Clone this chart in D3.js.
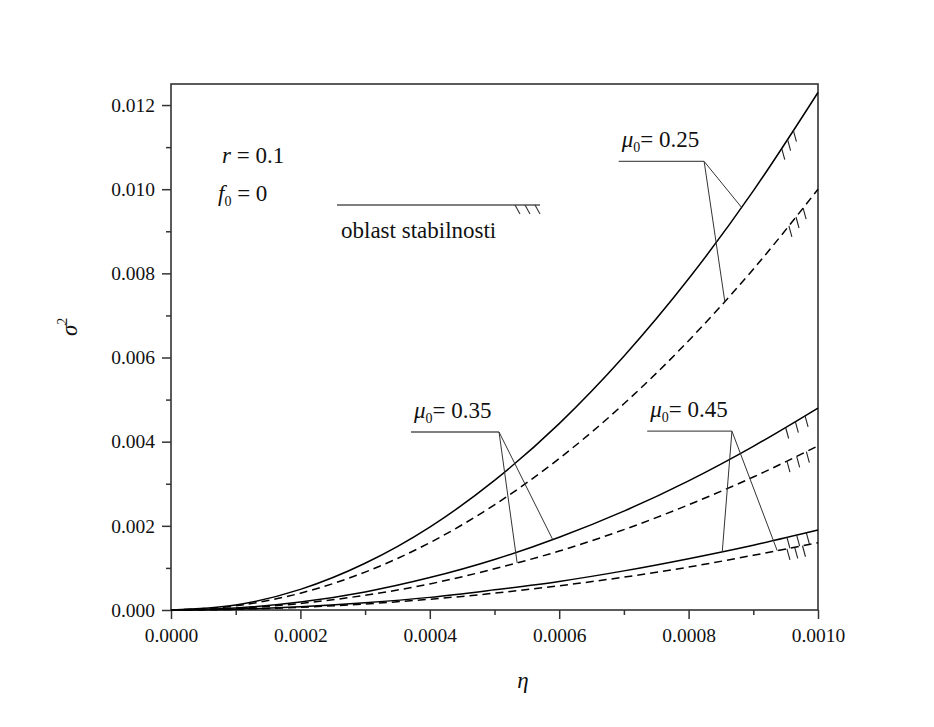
<!DOCTYPE html>
<html>
<head>
<meta charset="utf-8">
<script src="https://cdn.jsdelivr.net/npm/d3@7"></script>
<style>
body { margin: 0; background: #fff; }
text { font-family: "Liberation Serif", "Times New Roman", serif; fill: #111; }
</style>
</head>
<body>
<svg id="chart" width="934" height="727"></svg>
<script>
// values
const eta = [0, 0.0001, 0.0002, 0.0003, 0.0004, 0.0005, 0.0006, 0.0007, 0.0008, 0.0009, 0.0010];
const mu025Solid  = [0, 0.00012, 0.00049, 0.00111, 0.00197, 0.00308, 0.00443, 0.00603, 0.00787, 0.00996, 0.01230];
const mu025Dashed = [0, 0.00010, 0.00040, 0.00090, 0.00160, 0.00250, 0.00360, 0.00490, 0.00640, 0.00810, 0.01000];
const mu035Solid  = [0, 0.000048, 0.00019, 0.00043, 0.00077, 0.00120, 0.00173, 0.00235, 0.00307, 0.00389, 0.00480];
const mu035Dashed = [0, 0.000039, 0.000156, 0.00035, 0.00062, 0.00098, 0.00140, 0.00191, 0.00250, 0.00316, 0.00390];
const mu045Solid  = [0, 0.000019, 0.000076, 0.00017, 0.00030, 0.00048, 0.00068, 0.00093, 0.00122, 0.00154, 0.00190];
const mu045Dashed = [0, 0.000016, 0.000064, 0.000144, 0.000256, 0.00040, 0.000576, 0.00078, 0.00102, 0.00130, 0.00160];

const xTicks = [0, 0.0002, 0.0004, 0.0006, 0.0008, 0.0010];
const xMinor = [0.0001, 0.0003, 0.0005, 0.0007, 0.0009];
const yTicks = [0, 0.002, 0.004, 0.006, 0.008, 0.010, 0.012];
const yMinor = [0.001, 0.003, 0.005, 0.007, 0.009, 0.011];

const curves = [
  { id: "s25", values: mu025Solid,  dashed: false, hatch: [0.000944, 0.000953, 0.000962] },
  { id: "d25", values: mu025Dashed, dashed: true,  hatch: [0.000955, 0.000966, 0.000977] },
  { id: "s35", values: mu035Solid,  dashed: false, hatch: [0.000950, 0.000965, 0.000980] },
  { id: "d35", values: mu035Dashed, dashed: true,  hatch: [0.000952, 0.000967, 0.000982] },
  { id: "s45", values: mu045Solid,  dashed: false, hatch: [0.000952, 0.000967, 0.000982] },
  { id: "d45", values: mu045Dashed, dashed: true,  hatch: [0.000952, 0.000964, 0.000976] }
];

// label, start of underline, corner (eta, sigma2), leader targets
const muLabels = [
  { text: "0.25", start: 0.000692, corner: 0.000824, level: 0.01066, targets: [["s25", 0.000882], ["d25", 0.000856]] },
  { text: "0.35", start: 0.000371, corner: 0.000507, level: 0.00423, targets: [["s35", 0.000590], ["d35", 0.000535]] },
  { text: "0.45", start: 0.000736, corner: 0.000867, level: 0.00425, targets: [["s45", 0.000852], ["d45", 0.000937]] }
];

var svg = d3.select("#chart");
let plotLeft = 171, plotRight = 818, plotTop = 84, plotBottom = 610;

var x = d3.scaleLinear().domain([0, 0.001]).range([plotLeft, plotRight]);
var y = d3.scaleLinear().domain([0, 0.0125]).range([plotBottom, plotTop]);

// axes
let xAxis = svg.append("g").attr("transform", `translate(0,${plotBottom})`)
  .call(d3.axisBottom(x).tickValues(xTicks).tickSize(9).tickFormat(d3.format(".4f")));
xAxis.selectAll("text").attr("y", 32).attr("dy", 0);
svg.append("g").attr("transform", `translate(0,${plotBottom})`)
  .call(d3.axisBottom(x).tickValues(xMinor).tickSize(5).tickFormat(""));

let yAxis = svg.append("g").attr("transform", `translate(${plotLeft},0)`)
  .call(d3.axisLeft(y).tickValues(yTicks).tickSize(9).tickPadding(7).tickFormat(d3.format(".3f")));
svg.append("g").attr("transform", `translate(${plotLeft},0)`)
  .call(d3.axisLeft(y).tickValues(yMinor).tickSize(5).tickFormat(""));

svg.selectAll(".domain").remove();
svg.selectAll(".tick line").attr("stroke", "#333").attr("stroke-width", 1.5);
svg.selectAll(".tick text")
  .style("font-family", "'Liberation Serif', serif")
  .style("font-size", "19.5px")
  .attr("fill", "#111");

svg.append("rect")
  .attr("x", plotLeft).attr("y", plotTop)
  .attr("width", plotRight - plotLeft).attr("height", plotBottom - plotTop)
  .attr("fill", "none").attr("stroke", "#333").attr("stroke-width", 1.6);

// curves
let line = d3.line()
  .x(function (d, i) { return x(eta[i]); })
  .y(function (d) { return y(d); })
  .curve(d3.curveMonotoneX);

let paths = {};
for (let c of curves) {
  paths[c.id] = svg.append("path")
    .datum(c.values)
    .attr("d", line)
    .attr("fill", "none")
    .attr("stroke", "#000")
    .attr("stroke-width", 1.5)
    .attr("stroke-dasharray", c.dashed ? "8,5" : null)
    .node();
}

// point on a drawn path at given eta
function pointAt(id, e) {
  const p = paths[id];
  const tx = x(e);
  let lo = 0, hi = p.getTotalLength();
  for (let k = 0; k < 40; k++) {
    const mid = (lo + hi) / 2;
    if (p.getPointAtLength(mid).x < tx) lo = mid; else hi = mid;
  }
  return p.getPointAtLength(lo);
}

// stability hatches
for (let c of curves) {
  for (let e of c.hatch) {
    const pt = pointAt(c.id, e);
    svg.append("line")
      .attr("x1", pt.x).attr("y1", pt.y)
      .attr("x2", pt.x + 3).attr("y2", pt.y + 11)
      .attr("stroke", "#222").attr("stroke-width", 1.1);
  }
}

// mu labels with leaders
for (let m of muLabels) {
  const cx = x(m.corner), cy = y(m.level);
  svg.append("line")
    .attr("x1", x(m.start)).attr("y1", cy)
    .attr("x2", cx).attr("y2", cy)
    .attr("stroke", "#555").attr("stroke-width", 1.3);
  for (let t of m.targets) {
    const pt = pointAt(t[0], t[1]);
    svg.append("line")
      .attr("x1", cx).attr("y1", cy)
      .attr("x2", pt.x).attr("y2", pt.y)
      .attr("stroke", "#333").attr("stroke-width", 1);
  }
  let txt = svg.append("text")
    .attr("x", x(m.start) + 3).attr("y", cy - 14)
    .style("font-size", "23px");
  txt.append("tspan").style("font-style", "italic").text("μ");
  txt.append("tspan").attr("dy", 5).style("font-size", "14px").text("0");
  txt.append("tspan").attr("dy", -5).text("= " + m.text);
}

// parameters
let t1 = svg.append("text").attr("x", 222).attr("y", 163).style("font-size", "23px");
t1.append("tspan").style("font-style", "italic").text("r");
t1.append("tspan").text(" = 0.1");

let t2 = svg.append("text").attr("x", 218).attr("y", 201).style("font-size", "23px");
t2.append("tspan").style("font-style", "italic").text("f");
t2.append("tspan").attr("dy", 5).style("font-size", "14px").text("0");
t2.append("tspan").attr("dy", -5).text(" = 0");

// legend for stability region
svg.append("line")
  .attr("x1", 337).attr("y1", 205).attr("x2", 540).attr("y2", 205)
  .attr("stroke", "#555").attr("stroke-width", 1.3);
for (let hx of [515, 525, 535]) {
  svg.append("line")
    .attr("x1", hx).attr("y1", 205).attr("x2", hx + 5).attr("y2", 214)
    .attr("stroke", "#333").attr("stroke-width", 1.1);
}
svg.append("text").attr("x", 341).attr("y", 238)
  .style("font-size", "23px").text("oblast stabilnosti");

// axis titles
svg.append("text")
  .attr("x", 523).attr("y", 688)
  .attr("text-anchor", "middle")
  .style("font-size", "23px").style("font-style", "italic")
  .text("η");

let yl = svg.append("text")
  .attr("transform", "translate(77,336) rotate(-90)")
  .style("font-size", "23px");
yl.append("tspan").style("font-style", "italic").text("σ");
yl.append("tspan").attr("dy", -10).style("font-size", "14px").text("2");
</script>
</body>
</html>
